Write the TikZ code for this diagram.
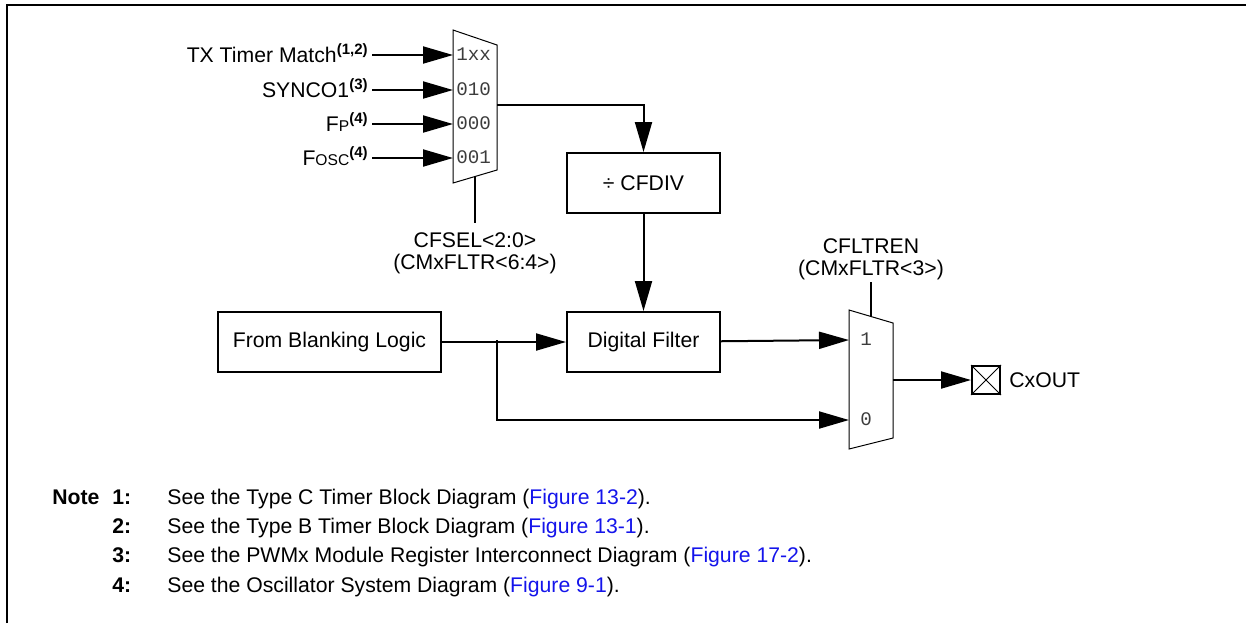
\documentclass[tikz,border=0pt]{standalone}
\usepackage{fontspec}
\setmainfont{Liberation Sans}
\setmonofont{Liberation Mono}
\usetikzlibrary{arrows.meta,positioning}

\definecolor{linkblue}{RGB}{20,20,235}
\definecolor{selgray}{RGB}{60,60,60}
\newcommand{\fnref}[1]{\raisebox{4pt}{\fontsize{7.5}{7.5}\selectfont\bfseries(#1)}}
\newcommand{\smcap}[1]{{\fontsize{7.8}{7.8}\selectfont #1}}
\newcommand{\figref}[1]{\textcolor{linkblue}{Figure #1}}

\tikzset{
  sig/.style={line width=1pt, -{Triangle[length=15pt,width=8.5pt]}},
  wire/.style={line width=1pt},
  blk/.style={draw, line width=1pt, minimum width=76.5pt, minimum height=30pt, inner sep=0pt},
  muxbody/.style={draw, line width=0.5pt},
  lbl/.style={inner sep=2pt, text height=7.6pt, text depth=0pt},
  sel/.style={font=\ttfamily\fontsize{9.6}{9.6}\selectfont, text=selgray, inner sep=1.5pt, text height=5.6pt, text depth=0pt},
}

\begin{document}
\begin{tikzpicture}[x=0.5pt, y=-0.5pt, font=\fontsize{10.6}{11}\selectfont]
    \useasboundingbox (0,0) rectangle (1246,623);
    \draw[line width=1pt] (7,623) -- (7,5) -- (1246,5);

    % clock source mux
    \draw[muxbody] (453,30) -- (497,45) -- (497,170) -- (453,183) -- cycle;
    \node[sel, anchor=west] (s1xx) at (453,55) {1xx};
    \node[sel, anchor=west] (s010) at (453,90) {010};
    \node[sel, anchor=west] (s000) at (453,124) {000};
    \node[sel, anchor=west] (s001) at (453,158) {001};
    \coordinate (mux1out) at (497,105);
    \coordinate (mux1sel) at (475,176.5);

    \node[lbl, anchor=east] (tx) at (372,55) {TX Timer Match\fnref{1,2}};
    \node[lbl, anchor=east] (sync) at (372,90) {SYNCO1\fnref{3}};
    \node[lbl, anchor=east] (fp) at (372,124) {F\smcap{P}\fnref{4}};
    \node[lbl, anchor=east] (fosc) at (372,158) {F\smcap{OSC}\fnref{4}};
    \node[align=center, anchor=north, inner sep=4.5pt] (cfsel) at (475,223) {CFSEL<2:0>\\(CMxFLTR<6:4>)};

    \draw[sig] (tx) -- (s1xx);
    \draw[sig] (sync) -- (s010);
    \draw[sig] (fp) -- (s000);
    \draw[sig] (fosc) -- (s001);
    \draw[wire] (mux1sel) -- (cfsel);

    % divider and filter
    \node[blk] (cfdiv) at (643.5,183) {÷ CFDIV};
    \node[blk, below=48.5pt of cfdiv] (filter) {Digital Filter};
    \node[blk, minimum width=111.5pt, left=62pt of filter] (blank) {From Blanking Logic};

    \draw[sig] (mux1out) -| (cfdiv);
    \draw[sig] (cfdiv) -- (filter);
    \draw[sig] (blank) -- (filter);

    % output mux
    \draw[muxbody] (849,310) -- (893,323) -- (893,438) -- (849,449) -- cycle;
    \coordinate (mux2in1) at (849,340);
    \coordinate (mux2in0) at (849,420);
    \coordinate (mux2out) at (893,380);
    \coordinate (mux2sel) at (871,316.5);
    \coordinate (tap) at (497,340);
    \node[sel] (one) at (866,340) {1};
    \node[sel] (zero) at (866,420) {0};
    \node[align=center, anchor=south, inner sep=1pt] (cfltren) at (871,282) {CFLTREN\\(CMxFLTR<3>)};

    \draw[sig] (filter) -- (mux2in1);
    \draw[sig] (tap) |- (mux2in0);
    \draw[wire] (mux2sel) -- (cfltren);

    \node[draw, line width=1pt, minimum size=14pt, inner sep=0pt] (cxbox) at (986,380) {};
    \draw[line width=0.4pt] (cxbox.north west) -- (cxbox.south east) (cxbox.north east) -- (cxbox.south west);
    \node[right=0pt of cxbox, inner sep=4pt] (cxout) {CxOUT};
    \draw[sig] (mux2out) -- (cxbox);

    % notes
    \node[anchor=base west, inner sep=0pt, font=\fontsize{10.6}{14.6}\selectfont] (notes) at (52,504.5) {%
      \begin{tabular}[t]{@{}p{30pt}@{}p{27.5pt}@{}l@{}}
        \textbf{Note} & \textbf{1:} & See the Type C Timer Block Diagram (\figref{13-2}).\\
        & \textbf{2:} & See the Type B Timer Block Diagram (\figref{13-1}).\\
        & \textbf{3:} & See the PWMx Module Register Interconnect Diagram (\figref{17-2}).\\
        & \textbf{4:} & See the Oscillator System Diagram (\figref{9-1}).
      \end{tabular}};
\end{tikzpicture}
\end{document}
